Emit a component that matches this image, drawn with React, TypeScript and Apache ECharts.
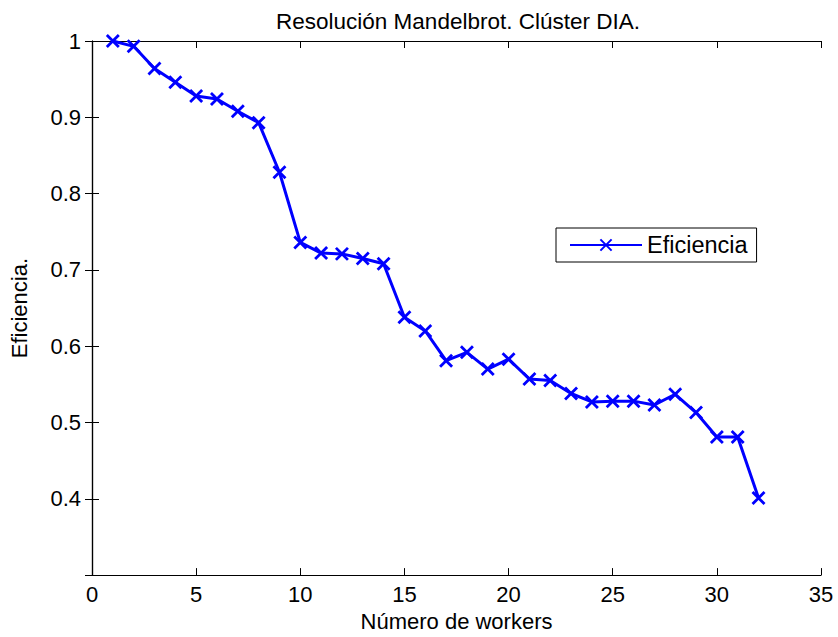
import React, { useEffect, useRef } from "react";
import * as echarts from "echarts";

const workers = [1, 2, 3, 4, 5, 6, 7, 8, 9, 10, 11, 12, 13, 14, 15, 16, 17, 18, 19, 20, 21, 22, 23, 24, 25, 26, 27, 28, 29, 30, 31, 32];
const eficiencia = [1.0, 0.993, 0.964, 0.946, 0.928, 0.924, 0.908, 0.893, 0.828, 0.736, 0.722, 0.721, 0.715, 0.708, 0.638, 0.620, 0.581, 0.592, 0.570, 0.583, 0.557, 0.555, 0.538, 0.527, 0.528, 0.528, 0.523, 0.537, 0.513, 0.481, 0.481, 0.401];

const titleText = "Resolución Mandelbrot. Clúster DIA.";
const xName = "Número de workers";
const yName = "Eficiencia.";
const seriesName = "Eficiencia";

const FONT = "'Liberation Sans', Arial, Helvetica, sans-serif";
const BLUE = "#0000ff";
const XMARK = "path://M0,0L10,10M10,0L0,10";

export default function App() {
  const ref = useRef<HTMLDivElement>(null);
  useEffect(() => {
    if (!ref.current) return;
    const chart = echarts.init(ref.current, undefined, { renderer: "svg" });
    const axisLine = { show: true, lineStyle: { color: "#000", width: 1.2 } };
    const tick = { show: true, inside: true, length: 7, lineStyle: { color: "#000", width: 1 } };
    const yFmt = (v: number) => (v < 0.35 ? "" : String(Number(v.toFixed(1))));
    chart.setOption({
      animation: false,
      backgroundColor: "#fff",
      textStyle: { fontFamily: FONT },
      title: {
        text: titleText,
        left: 453,
        textAlign: "center",
        top: 5,
        textStyle: { fontFamily: FONT, fontSize: 22.5, fontWeight: "normal", color: "#000" },
      },
      grid: { left: 85, right: 17, top: 41, bottom: 61, containLabel: false },
      legend: {
        left: 556,
        top: 228,
        padding: [5, 9, 5, 13],
        borderColor: "#000",
        borderWidth: 1,
        backgroundColor: "#fff",
        itemWidth: 72,
        itemHeight: 14,
        itemGap: 0,
        textStyle: { fontFamily: FONT, fontSize: 23.5, color: "#000" },
        data: [seriesName],
      },
      xAxis: [
        {
          type: "value",
          min: 0,
          max: 35,
          interval: 5,
          position: "bottom",
          name: xName,
          nameLocation: "middle",
          nameGap: 27,
          nameTextStyle: { fontFamily: FONT, fontSize: 22, color: "#000" },
          axisLine,
          axisTick: tick,
          axisLabel: { fontFamily: FONT, fontSize: 22, color: "#000", margin: 8 },
          splitLine: { show: false },
        },
        {
          type: "value",
          min: 0,
          max: 35,
          interval: 5,
          position: "top",
          axisLine,
          axisTick: tick,
          axisLabel: { show: false },
          splitLine: { show: false },
        },
      ],
      yAxis: [
        {
          type: "value",
          min: 0.3,
          max: 1,
          interval: 0.1,
          position: "left",
          name: yName,
          nameLocation: "middle",
          nameGap: 62,
          nameRotate: 90,
          nameTextStyle: { fontFamily: FONT, fontSize: 22, color: "#000" },
          axisLine,
          axisTick: tick,
          axisLabel: { fontFamily: FONT, fontSize: 22, color: "#000", margin: 11, formatter: yFmt },
          splitLine: { show: false },
        },
        {
          type: "value",
          min: 0.3,
          max: 1,
          interval: 0.1,
          position: "right",
          axisLine,
          axisTick: tick,
          axisLabel: { show: false },
          splitLine: { show: false },
        },
      ],
      series: [
        {
          name: seriesName,
          type: "line",
          xAxisIndex: 0,
          yAxisIndex: 0,
          data: workers.map((w, i) => [w, eficiencia[i]]),
          symbol: XMARK,
          symbolSize: 12,
          showAllSymbol: true,
          lineStyle: { color: BLUE, width: 3 },
          itemStyle: { color: BLUE, borderColor: BLUE, borderWidth: 2.8 },
          emphasis: { disabled: true },
        },
      ],
    });
    return () => chart.dispose();
  }, []);
  return <div ref={ref} style={{ width: 838, height: 637, position: "absolute", left: 0, top: 0 }} />;
}
